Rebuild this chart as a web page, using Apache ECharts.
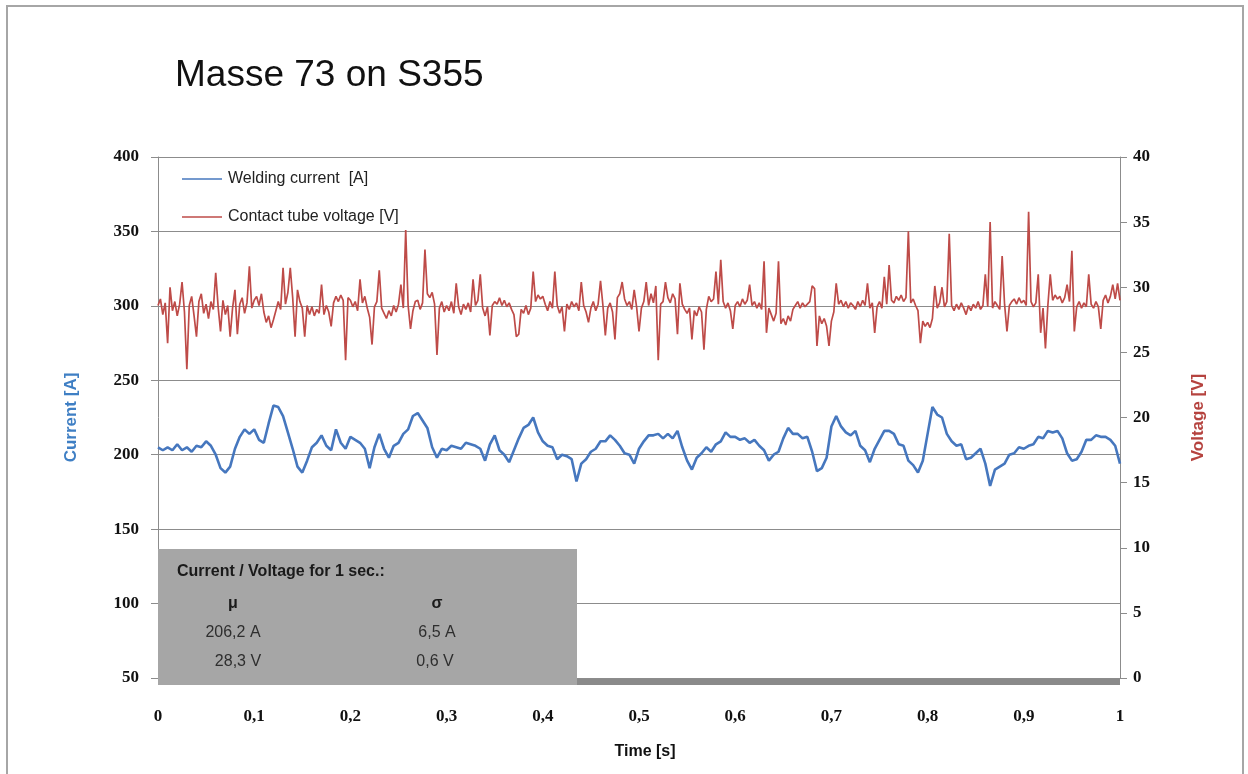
<!DOCTYPE html>
<html>
<head>
<meta charset="utf-8">
<title>Masse 73 on S355</title>
<script src="https://cdn.jsdelivr.net/npm/echarts@6/dist/echarts.min.js"></script>
<style>
  html, body { margin: 0; padding: 0; background: #fff; }
  #chart { width: 1248px; height: 774px; }
</style>
</head>
<body>
<div id="chart"></div>
<script>
// Welding current, sampled every 5 ms over one second [A]
const currentStep = 0.005;
const currentA = [
  205, 203, 205, 203, 207, 203, 205, 202, 206, 205,
  209, 206, 200, 191, 188, 192, 204, 212, 217, 214,
  217, 210, 208, 221, 233, 232, 226, 215, 204, 192,
  188, 196, 205, 208, 213, 206, 203, 217, 208, 204,
  212, 210, 208, 204, 191, 205, 214, 204, 198, 206,
  208, 214, 217, 226, 228, 223, 218, 205, 198, 204,
  203, 206, 205, 204, 208, 207, 206, 204, 196, 207,
  213, 203, 200, 195, 203, 211, 218, 220, 225, 215,
  209, 206, 205, 197, 200, 199, 197, 182, 194, 197,
  202, 204, 209, 209, 213, 210, 206, 201, 200, 194,
  204, 209, 213, 213, 214, 211, 214, 211, 216, 205,
  196, 190, 198, 201, 205, 202, 207, 209, 215, 212,
  212, 210, 211, 208, 210, 206, 203, 196, 200, 202,
  211, 218, 214, 214, 211, 212, 202, 189, 191, 198,
  219, 226, 219, 215, 213, 216, 206, 203, 195, 204,
  210, 216, 216, 214, 207, 206, 196, 193, 188, 196,
  214, 232, 227, 225, 214, 209, 206, 207, 197, 198,
  201, 204, 194, 179, 190, 192, 194, 200, 201, 205,
  204, 206, 207, 212, 211, 216, 215, 216, 211, 201,
  196, 197, 202, 210, 210, 213, 212, 212, 210, 206,
  194
];

// Contact tube voltage, sampled every 2.5 ms over one second [V]
const voltageStep = 0.0025;
const voltageV = [
  28.6, 29.1, 27.9, 28.8, 25.7, 30.0, 28.2, 28.9, 27.8, 28.7,
  30.4, 28.1, 23.7, 28.6, 29.3, 27.8, 26.2, 28.9, 29.5, 28.0,
  28.7, 27.6, 28.9, 28.3, 31.1, 28.5, 26.6, 29.0, 27.9, 28.6,
  26.2, 28.4, 29.8, 26.4, 28.7, 29.2, 28.0, 28.8, 31.6, 28.4,
  29.0, 29.3, 28.6, 29.5, 28.1, 27.3, 27.8, 26.9, 27.5, 28.2,
  28.9, 28.3, 31.5, 28.7, 29.6, 31.5, 29.2, 26.2, 29.8, 28.9,
  28.4, 26.2, 28.6, 27.9, 28.5, 27.8, 28.3, 28.0, 30.2, 27.9,
  28.6, 28.1, 27.0, 28.8, 29.3, 28.9, 29.4, 29.0, 24.4, 29.2,
  29.0, 28.5, 28.9, 28.2, 30.6, 28.8, 29.3, 28.4, 27.7, 25.6,
  28.5, 28.9, 31.3, 28.4, 28.0, 27.6, 28.2, 27.8, 28.6, 28.1,
  28.7, 30.2, 28.4, 34.4, 28.6, 26.8, 28.2, 28.9, 29.0, 28.3,
  28.8, 32.9, 29.5, 29.2, 29.6, 28.7, 24.8, 28.4, 28.9, 28.1,
  28.6, 28.2, 28.9, 28.0, 30.3, 28.5, 27.9, 28.7, 28.3, 28.8,
  28.1, 30.6, 28.6, 29.0, 31.0, 28.4, 27.8, 28.5, 26.3, 28.6,
  28.9, 28.7, 29.2, 28.6, 29.0, 28.5, 28.8, 28.3, 27.9, 26.2,
  26.4, 28.3, 28.0, 28.6, 27.9, 28.4, 31.2, 28.9, 29.4, 29.1,
  29.3, 28.7, 28.2, 28.9, 28.4, 31.2, 28.6, 28.0, 28.5, 26.6,
  28.7, 28.3, 28.9, 28.5, 28.8, 28.2, 30.4, 28.6, 28.1, 27.3,
  28.4, 28.9, 28.2, 28.7, 30.5, 28.6, 26.3, 28.4, 28.8, 28.1,
  26.0, 29.2, 29.5, 30.4, 29.1, 28.6, 28.9, 28.3, 29.8, 28.5,
  26.6, 28.4, 28.9, 30.4, 28.6, 29.5, 28.8, 30.1, 24.4, 28.7,
  28.9, 30.4, 29.2, 28.8, 29.5, 29.1, 26.4, 30.3, 28.7, 28.3,
  28.0, 28.4, 26.0, 28.2, 27.8, 28.5, 28.1, 25.2, 28.3, 29.3,
  28.9, 29.1, 31.2, 28.7, 32.1, 28.9, 28.4, 28.8, 28.2, 26.8,
  28.6, 28.9, 28.5, 29.1, 28.7, 29.0, 30.2, 28.6, 28.9, 28.4,
  28.8, 28.3, 32.0, 26.5, 28.4, 27.9, 27.4, 28.0, 32.0, 27.2,
  27.6, 27.1, 27.8, 27.4, 28.3, 28.6, 28.9, 28.4, 28.8, 28.5,
  28.7, 28.9, 30.1, 29.9, 25.5, 27.8, 27.2, 27.6, 27.0, 25.5,
  27.4, 28.1, 30.3, 28.7, 29.0, 28.5, 28.9, 28.4, 28.8, 28.6,
  28.3, 28.9, 28.5, 29.0, 28.6, 30.3, 28.4, 28.8, 26.5, 28.5,
  28.9, 28.4, 30.8, 28.7, 31.7, 29.0, 28.8, 29.3, 29.0, 29.4,
  28.9, 29.2, 34.3, 28.8, 29.1, 28.6, 28.2, 25.7, 27.4, 27.0,
  27.3, 26.9, 27.6, 30.1, 28.4, 28.8, 30.0, 28.5, 28.9, 34.1,
  28.6, 28.2, 28.7, 28.3, 28.8, 28.4, 27.9, 28.6, 28.2, 28.7,
  28.4, 28.9, 28.3, 28.6, 31.0, 28.5, 35.0, 28.4, 28.9, 28.6,
  28.3, 32.4, 28.7, 26.6, 28.6, 28.9, 29.1, 28.7, 29.2, 28.8,
  29.0, 28.6, 35.8, 28.9, 28.5, 28.8, 31.0, 26.5, 28.4, 25.3,
  28.6, 31.0, 29.0, 29.4, 29.1, 29.3, 28.8, 29.2, 30.2, 28.9,
  32.8, 26.6, 28.5, 28.9, 28.4, 28.8, 28.5, 31.0, 28.7, 28.4,
  28.9, 28.5, 26.8, 29.0, 29.4, 28.8, 29.3, 30.2, 29.1, 30.3,
  29.0
];

// Summary statistics shown in the grey box
const statHeading = 'Current / Voltage for 1 sec.:';
const statMeans = ['206,2 A', '28,3 V'];
const statSigmas = ['6,5 A', '0,6 V'];

const seriesNames = ['Welding current  [A]', 'Contact tube voltage [V]'];

const currentPoints = currentA.map((v, i) => [i * currentStep, v]);
const voltagePoints = voltageV.map((v, i) => [i * voltageStep, v]);

const GRID = { left: 158, right: 128, top: 157, bottom: 96 };
const axisGrey = '#8c8c8c';
const tickFont = { fontFamily: 'Liberation Serif', fontWeight: 'bold', fontSize: 17, color: '#111' };
const sansFont = 'Liberation Sans';
const commaNum = v => String(Math.round(v * 10) / 10).replace('.', ',');

const chart = echarts.init(document.getElementById('chart'), null, { renderer: 'canvas' });

chart.setOption({
  backgroundColor: '#ffffff',
  animation: false,
  title: {
    text: 'Masse 73 on S355',
    left: 170,
    top: 52,
    textStyle: { fontFamily: sansFont, fontSize: 37, fontWeight: 'normal', color: '#111' }
  },
  legend: {
    orient: 'vertical',
    left: 182,
    top: 171,
    padding: 0,
    itemGap: 22,
    itemWidth: 40,
    itemHeight: 1.5,
    icon: 'rect',
    textStyle: { fontFamily: sansFont, fontSize: 16, color: '#222', padding: [0, 0, 0, 1] },
    data: seriesNames
  },
  grid: GRID,
  xAxis: {
    type: 'value',
    min: 0,
    max: 1,
    interval: 0.1,
    name: 'Time [s]',
    nameLocation: 'middle',
    nameGap: 66,
    nameTextStyle: { fontFamily: sansFont, fontWeight: 'bold', fontSize: 16, color: '#111', padding: [0, 0, 0, 12] },
    axisLine: { show: true, lineStyle: { color: axisGrey, width: 1 } },
    axisTick: { show: false },
    splitLine: { show: false },
    axisLabel: Object.assign({ margin: 30, formatter: commaNum }, tickFont)
  },
  yAxis: [
    {
      type: 'value',
      min: 50,
      max: 400,
      interval: 50,
      position: 'left',
      name: 'Current [A]',
      nameLocation: 'middle',
      nameGap: 78,
      nameRotate: 90,
      nameTextStyle: { fontFamily: sansFont, fontWeight: 'bold', fontSize: 17, color: '#3f7fc4' },
      axisLine: { show: true, lineStyle: { color: axisGrey, width: 1 } },
      axisTick: { show: true, length: 7, lineStyle: { color: axisGrey } },
      splitLine: { show: true, lineStyle: { color: axisGrey, width: 1 } },
      axisLabel: Object.assign({ margin: 19 }, tickFont)
    },
    {
      type: 'value',
      min: 0,
      max: 40,
      interval: 5,
      position: 'right',
      name: 'Voltage [V]',
      nameLocation: 'middle',
      nameGap: 70,
      nameRotate: 90,
      nameTextStyle: { fontFamily: sansFont, fontWeight: 'bold', fontSize: 17, color: '#b5433f' },
      axisLine: { show: true, lineStyle: { color: axisGrey, width: 1 } },
      axisTick: { show: true, length: 7, lineStyle: { color: axisGrey } },
      splitLine: { show: false },
      axisLabel: Object.assign({ margin: 13 }, tickFont)
    }
  ],
  series: [
    {
      name: seriesNames[0],
      type: 'line',
      yAxisIndex: 0,
      data: currentPoints,
      showSymbol: false,
      color: '#4677be',
      lineStyle: { width: 2.6, color: '#4677be' },
      z: 3
    },
    {
      name: seriesNames[1],
      type: 'line',
      yAxisIndex: 1,
      data: voltagePoints,
      showSymbol: false,
      color: '#be4b48',
      lineStyle: { width: 1.7, color: '#be4b48' },
      z: 2
    }
  ],
  graphic: [
    // outer frame of the chart area
    {
      type: 'rect', silent: true, z: 0,
      shape: { x: 7, y: 6, width: 1236, height: 800 },
      style: { fill: null, stroke: '#a6a6a6', lineWidth: 2 }
    },
    // statistics box
    {
      type: 'rect', silent: true, z: 50,
      shape: { x: 158, y: 549, width: 419, height: 136 },
      style: { fill: '#a6a6a6' }
    },
    // dark strip along the time axis
    {
      type: 'rect', silent: true, z: 50,
      shape: { x: 577, y: 679, width: 543, height: 6 },
      style: { fill: '#8a8a8a' }
    },
    {
      type: 'text', z: 51, left: 177, top: 564,
      style: { text: statHeading, font: 'bold 16px "Liberation Sans"', fill: '#1a1a1a' }
    },
    {
      type: 'text', z: 51, x: 233, y: 604,
      style: { text: 'μ', font: 'bold 16px "Liberation Sans"', fill: '#1a1a1a', align: 'center', verticalAlign: 'middle' }
    },
    {
      type: 'text', z: 51, x: 437, y: 604,
      style: { text: 'σ', font: 'bold 16px "Liberation Sans"', fill: '#1a1a1a', align: 'center', verticalAlign: 'middle' }
    },
    {
      type: 'text', z: 51, x: 233, y: 633,
      style: { text: statMeans[0], font: '16px "Liberation Sans"', fill: '#2e2e2e', align: 'center', verticalAlign: 'middle' }
    },
    {
      type: 'text', z: 51, x: 238, y: 662,
      style: { text: statMeans[1], font: '16px "Liberation Sans"', fill: '#2e2e2e', align: 'center', verticalAlign: 'middle' }
    },
    {
      type: 'text', z: 51, x: 437, y: 633,
      style: { text: statSigmas[0], font: '16px "Liberation Sans"', fill: '#2e2e2e', align: 'center', verticalAlign: 'middle' }
    },
    {
      type: 'text', z: 51, x: 435, y: 662,
      style: { text: statSigmas[1], font: '16px "Liberation Sans"', fill: '#2e2e2e', align: 'center', verticalAlign: 'middle' }
    }
  ]
});
</script>
</body>
</html>
